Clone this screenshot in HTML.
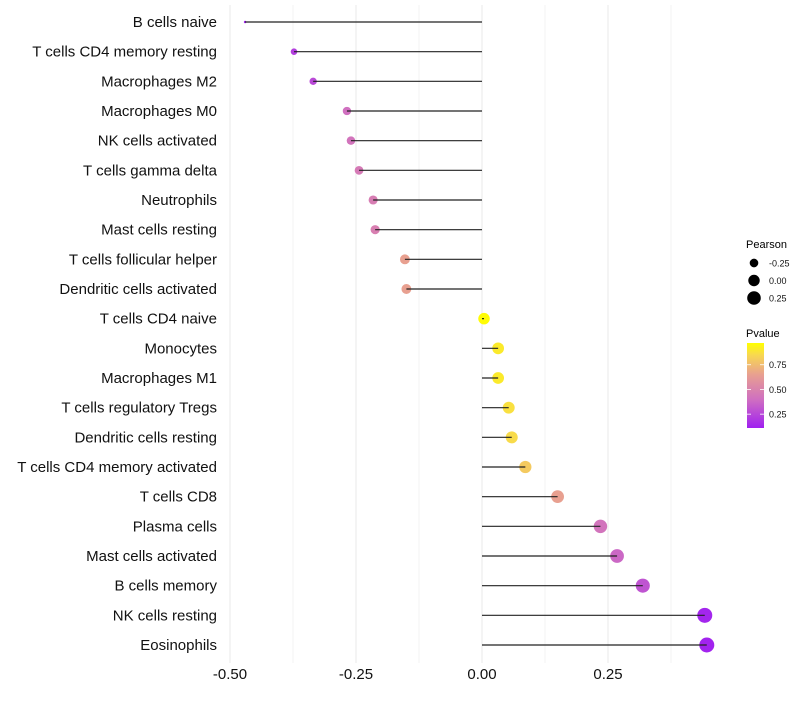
<!DOCTYPE html>
<html><head><meta charset="utf-8"><style>
body{margin:0;background:#fff}
svg text{font-family:"Liberation Sans",sans-serif}
</style></head><body>
<svg id="chart" width="800" height="700" xmlns="http://www.w3.org/2000/svg">
<g id="grid"></g>
<g id="ylabels"></g>
<g id="xlabels"></g>
<g id="marks"></g>
<g id="legend">
<text x="746" y="248" font-size="11">Pearson</text>
<text x="746" y="337" font-size="11">Pvalue</text>
<defs><linearGradient id="pg" x1="0" y1="1" x2="0" y2="0">
<stop offset="0" stop-color="#a020f0"/><stop offset="0.34" stop-color="#d070c0"/><stop offset="0.63" stop-color="#e8a090"/><stop offset="0.86" stop-color="#f8d850"/><stop offset="1" stop-color="#ffff00"/>
</linearGradient></defs>
<rect x="747" y="343" width="17" height="85" fill="url(#pg)"/>
</g>
</svg>
<script>
const categories=["B cells naive","T cells CD4 memory resting","Macrophages M2","Macrophages M0","NK cells activated","T cells gamma delta","Neutrophils","Mast cells resting","T cells follicular helper","Dendritic cells activated","T cells CD4 naive","Monocytes","Macrophages M1","T cells regulatory  Tregs ","Dendritic cells resting","T cells CD4 memory activated","T cells CD8","Plasma cells","Mast cells activated","B cells memory","NK cells resting","Eosinophils"];
const pearson=[-0.470,-0.373,-0.335,-0.268,-0.260,-0.244,-0.216,-0.212,-0.153,-0.150,0.004,0.032,0.032,0.053,0.059,0.086,0.150,0.235,0.268,0.319,0.442,0.446];
const pvalue=[0.11,0.22,0.26,0.40,0.42,0.45,0.47,0.48,0.65,0.65,0.99,0.92,0.92,0.88,0.86,0.80,0.65,0.42,0.37,0.30,0.13,0.12];
const xTicks=[-0.5,-0.25,0,0.25];
const xTickLabels=["-0.50","-0.25","0.00","0.25"];
const sizeLegendVals=[-0.25,0,0.25];
const sizeLegendLabels=["-0.25","0.00","0.25"];
const pvalTicks=[0.25,0.5,0.75];
const pvalTickLabels=["0.25","0.50","0.75"];

const NS="http://www.w3.org/2000/svg";
const xs=v=>482+v*504;
const ys=i=>22+i*(623/21);
const pMin=Math.min(...pearson),pMax=Math.max(...pearson);
const rs=v=>{const t=Math.max(0,Math.min(1,(v-pMin)/(pMax-pMin)));return 1.25*(1+5*Math.sqrt(t));};
const stops=[[0.11,[160,32,240]],[0.4,[208,112,192]],[0.65,[232,160,144]],[0.85,[248,216,80]],[1.0,[255,255,0]]];
function col(p){
  if(p<=stops[0][0])return 'rgb('+stops[0][1]+')';
  for(let i=1;i<stops.length;i++){if(p<=stops[i][0]){const a=stops[i-1],b=stops[i],t=(p-a[0])/(b[0]-a[0]);return 'rgb('+a[1].map((c,k)=>Math.round(c+(b[1][k]-c)*t)).join(',')+')';}}
  return 'rgb(255,255,0)';
}
function mk(tag,at,parent){const e=document.createElementNS(NS,tag);for(const k in at)e.setAttribute(k,at[k]);parent.appendChild(e);return e;}
const grid=document.getElementById('grid');
for(let v=-0.5;v<=0.376;v+=0.125){
  const l=mk('line',{x1:xs(v),x2:xs(v),y1:5,y2:663,stroke:'#ebebeb','stroke-width':(Math.abs(v*4-Math.round(v*4))<1e-6)?1.1:0.6},grid);
  
  
}
const xl=document.getElementById('xlabels');
xTicks.forEach((v,i)=>{
  const t=mk('text',{x:xs(v),y:679,'font-size':15,'text-anchor':'middle',fill:'#111'},xl);
  t.textContent=xTickLabels[i];
  
  
});
const yl=document.getElementById('ylabels'),marks=document.getElementById('marks');
categories.forEach((c,i)=>{
  const t=mk('text',{x:217,y:ys(i)+5,'font-size':15,'text-anchor':'end',fill:'#111'},yl);
  t.textContent=c;
  
  
  const p=mk('circle',{cx:xs(pearson[i]),cy:ys(i),r:rs(pearson[i]),fill:col(pvalue[i])},marks);
  
  
  const l=mk('line',{x1:xs(0),x2:xs(pearson[i]),y1:ys(i),y2:ys(i),stroke:'#222','stroke-width':1.2},marks);
  
  
});
const lg=document.getElementById('legend');
sizeLegendVals.forEach((v,i)=>{
  const y=263+i*17.5;
  const c=mk('circle',{cx:754,cy:y,r:rs(v),fill:'#000'},lg);
  
  
  const t=mk('text',{x:769,y:y+3.5,'font-size':9,fill:'#111'},lg);
  t.textContent=sizeLegendLabels[i];
  
  
});
const pys=p=>428-(p-0.11)/(0.97-0.11)*85;
pvalTicks.forEach((p,i)=>{
  const y=pys(p);
  const a=mk('line',{x1:747,x2:751,y1:y,y2:y,stroke:'#fff','stroke-width':0.8},lg);
  
  
  const b=mk('line',{x1:760,x2:764,y1:y,y2:y,stroke:'#fff','stroke-width':0.8},lg);
  
  
  const t=mk('text',{x:769,y:y+3.5,'font-size':9,fill:'#111'},lg);
  t.textContent=pvalTickLabels[i];
  
  
});
</script>
</body></html>
